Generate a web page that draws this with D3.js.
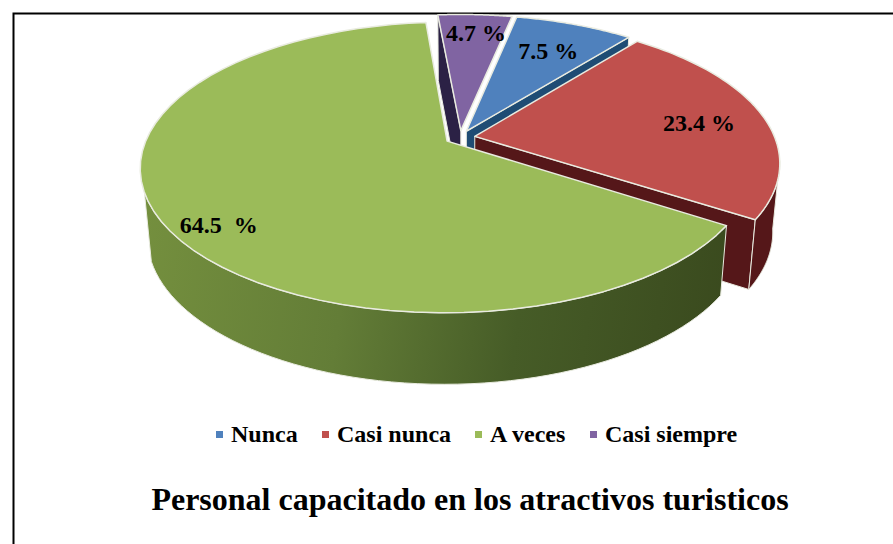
<!DOCTYPE html>
<html>
<head>
<meta charset="utf-8">
<script src="https://cdn.jsdelivr.net/npm/d3@7"></script>
<style>
body { margin: 0; background: white; }
text { font-family: "Liberation Serif", serif; font-weight: bold; fill: black; white-space: pre; }
</style>
</head>
<body>
<svg id="chart" width="893" height="544"></svg>
<script>
const categories = ["Nunca", "Casi nunca", "A veces", "Casi siempre"];
const values = [7.5, 23.4, 64.5, 4.7];
const labels = ["7.5 %", "23.4 %", "64.5  %", "4.7 %"];
const topColors = ["#4f81bd", "#c0504d", "#9bbb59", "#8064a2"];
const wallColors = ["#1f4c74", "#551719", "#4f6a2c", "#2b2145"];
const labelRadius = [0.73, 0.77, 0.865, 0.82];
const labelPos = [0.5, 0.52, 0.47, 0.55];
const chartTitle = "Personal capacitado en los atractivos turisticos";

const width = 893, height = 544;
const svg = d3.select("#chart");

// pie centre and the perspective of the tilted disc
const cx = 460, cy = 137.5;
const rx = 300, ry = 139.3, persp = 0.18;
const depth = 68, shrinkX = 0.022, growY = 0.02, explode = 0.05;
const edge = "#e9ebe0";

function project(angle, r, z, off) {
    let X = r * Math.sin(angle) + off[0];
    let Y = r * Math.cos(angle) + off[1];
    let w = 1 + persp * Y;
    return [
        cx + rx * X / w * (1 - shrinkX * z),
        cy - ry * Y / w * (1 + growY * z) + depth * z
    ];
}

const pie = d3.pie()
    .sort(null)
    .startAngle(11.7 * Math.PI / 180)
    .endAngle(371.7 * Math.PI / 180);

const slices = pie(values).map((d, i) => {
    let mid = (d.startAngle + d.endAngle) / 2;
    return {
        i: i,
        a0: d.startAngle,
        a1: d.endAngle,
        mid: mid,
        off: [explode * Math.sin(mid), explode * Math.cos(mid)]
    };
});

const line = d3.line();

function arcPoints(s, z) {
    return d3.range(0, 61).map(k => project(s.a0 + (s.a1 - s.a0) * k / 60, 1, z, s.off));
}

function topFace(s) {
    return line([project(0, 0, 0, s.off)].concat(arcPoints(s, 0))) + "Z";
}

function outerWall(s, a0, a1) {
    let part = { a0: a0, a1: a1, off: s.off };
    return line(arcPoints(part, 0).concat(arcPoints(part, 1).reverse())) + "Z";
}

function cutWall(s, angle) {
    return line([
        project(0, 0, 0, s.off),
        project(angle, 1, 0, s.off),
        project(angle, 1, 1, s.off),
        project(0, 0, 1, s.off)
    ]) + "Z";
}

const defs = svg.append("defs");
const greenGrad = defs.append("linearGradient")
    .attr("id", "greenWall")
    .attr("gradientUnits", "userSpaceOnUse")
    .attr("x1", 140).attr("y1", 250)
    .attr("x2", 725).attr("y2", 330);
greenGrad.selectAll("stop")
    .data([[0, "#748f3e"], [0.35, "#637d37"], [0.65, "#465c27"], [1, "#3a4a1e"]])
    .join("stop")
    .attr("offset", d => d[0])
    .attr("stop-color", d => d[1]);

// frame
svg.append("path")
    .attr("d", "M13.5,544V13.5H893")
    .attr("fill", "none")
    .attr("stroke", "black")
    .attr("stroke-width", 2);

const pieArea = svg.append("g");

// back to front: purple, blue, red, green
function drawSlice(s, walls, wallFill) {
    walls.forEach(path => {
        pieArea.append("path")
            .attr("d", path)
            .attr("fill", wallFill)
            .attr("stroke", edge)
            .attr("stroke-width", 1);
    });
    pieArea.append("path")
        .attr("d", topFace(s))
        .attr("fill", topColors[s.i])
        .attr("stroke", edge)
        .attr("stroke-width", 1.5)
        .attr("stroke-linejoin", "round");
}

const [blue, red, green, purple] = slices;
drawSlice(purple, [cutWall(purple, purple.a0)], wallColors[3]);
drawSlice(blue, [cutWall(blue, blue.a1)], wallColors[0]);
drawSlice(red, [cutWall(red, red.a1), outerWall(red, Math.PI / 2 + 0.17, red.a1)], wallColors[1]);
drawSlice(green, [outerWall(green, green.a0, Math.PI * 1.5 - 0.35)], "url(#greenWall)");

// value labels
function labelAt(s) {
    let a = s.a0 + (s.a1 - s.a0) * labelPos[s.i];
    return project(a, labelRadius[s.i], 0, s.off);
}

svg.append("g").selectAll("text")
    .data(slices)
    .join("text")
    .attr("x", s => labelAt(s)[0])
    .attr("y", s => labelAt(s)[1])
    .attr("dy", "0.35em")
    .attr("text-anchor", "middle")
    .attr("font-size", 24)
    .text(s => labels[s.i]);

// legend
const legendX = d3.scaleOrdinal().domain(categories).range([231, 337, 490, 605]);
const legend = svg.append("g").selectAll("g")
    .data(categories)
    .join("g")
    .attr("transform", d => `translate(${legendX(d)},434)`);
legend.append("rect")
    .attr("x", -15).attr("y", -3)
    .attr("width", 7).attr("height", 7)
    .attr("fill", (d, i) => topColors[i]);
legend.append("text")
    .attr("dy", "0.35em")
    .attr("font-size", 24)
    .text(d => d);

svg.append("text")
    .attr("x", 470)
    .attr("y", 510)
    .attr("text-anchor", "middle")
    .attr("font-size", 32)
    .text(chartTitle);
</script>
</body>
</html>
